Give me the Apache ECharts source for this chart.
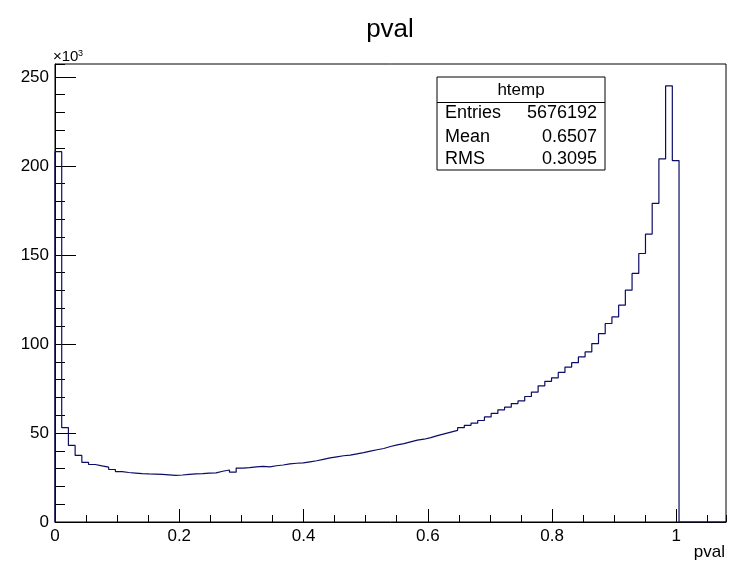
<!DOCTYPE html>
<html>
<head>
<meta charset="utf-8">
<script src="https://cdn.jsdelivr.net/npm/echarts@6/dist/echarts.min.js"></script>
<style>
html,body{margin:0;padding:0;background:#fff}
#main{width:729px;height:564px}
</style>
</head>
<body>
<div id="main"></div>
<script>
// htemp: 100 bins from 0 to 1.08, counts in units of 10^3
var binMin = 0, binMax = 1.08, nBins = 100;
var counts = [
    208, 53, 43, 37.4, 33.5, 32.3, 31.5, 30.8, 29.5, 28.3,
    27.8, 27.5, 27.2, 27.0, 26.9, 26.8, 26.5, 26.2, 26.4, 26.7,
    27.0, 27.2, 27.5, 27.6, 28.5, 29.2, 28.0, 30.3, 30.5, 31.0,
    31.2, 31.0, 31.6, 32.0, 32.6, 33.0, 33.2, 33.8, 34.4, 35.2,
    36.0, 36.6, 37.2, 37.6, 38.3, 39.0, 39.8, 40.6, 41.3, 42.4,
    43.3, 44.0, 45.0, 46.0, 46.5, 47.4, 48.5, 49.5, 50.5, 51.5,
    53.0, 54.3, 55.5, 57.0, 59.0, 61.0, 63.0, 64.5, 66.5, 68.0,
    70.5, 73.0, 76.5, 79.0, 81.0, 84.0, 87.0, 89.5, 92.7, 95.5,
    100.2, 105.8, 111.5, 115.2, 121.8, 130.2, 139.6, 150.8, 161.7, 179.0,
    204.0, 245.0, 203.0, 0, 0, 0, 0, 0, 0, 0
];
var statNames = ['Entries', 'Mean', 'RMS'];
var statValues = ['5676192', '0.6507', '0.3095'];

var font = 'Liberation Sans, Arial, Helvetica, sans-serif';
var lineColor = '#0c0c66';

// step points at the bin edges
var binW = (binMax - binMin) / nBins;
var pts = [[binMin, 0]];
for (var i = 0; i < nBins; i++) {
    pts.push([binMin + i * binW, counts[i]]);
}
pts.push([binMax, 0]);

var yMax = Math.max.apply(null, counts) * 1.05;

var myChart = echarts.init(document.getElementById('main'));

// stats box
var boxL = 437, boxT = 77, boxW = 168, boxH = 93;
var rowY = [113, 137.5, 159];
var stats = [
    {type: 'rect', shape: {x: boxL, y: boxT, width: boxW, height: boxH},
     style: {fill: '#fff', stroke: '#000', lineWidth: 1}},
    {type: 'line', shape: {x1: boxL, y1: 102.5, x2: boxL + boxW, y2: 102.5},
     style: {stroke: '#000', lineWidth: 1}},
    {type: 'text', style: {text: 'htemp', x: boxL + boxW / 2, y: 90, font: '17px ' + font,
     fill: '#000', align: 'center', verticalAlign: 'middle'}}
];
for (var k = 0; k < statNames.length; k++) {
    stats.push({type: 'text', style: {text: statNames[k], x: 445, y: rowY[k], font: '18px ' + font,
        fill: '#000', align: 'left', verticalAlign: 'middle'}});
    stats.push({type: 'text', style: {text: statValues[k], x: 597, y: rowY[k], font: '18px ' + font,
        fill: '#000', align: 'right', verticalAlign: 'middle'}});
}

option = {
    animation: false,
    backgroundColor: '#fff',
    grid: {
        left: 55, right: 3, top: 64, bottom: 42,
        show: true, borderColor: '#000', borderWidth: 1, backgroundColor: 'transparent'
    },
    xAxis: [
        {
            type: 'value', position: 'bottom', min: binMin, max: binMax, interval: 0.2,
            splitLine: {show: false},
            axisLine: {lineStyle: {color: '#000', width: 1}},
            axisTick: {inside: true, length: 13, lineStyle: {color: '#000'}},
            axisLabel: {color: '#000', fontSize: 17, fontFamily: font, margin: 6, showMaxLabel: false}
        },
        {
            type: 'value', position: 'bottom', min: binMin, max: binMax, interval: 0.05,
            splitLine: {show: false},
            axisLine: {show: false},
            axisTick: {inside: true, length: 7, lineStyle: {color: '#000'}},
            axisLabel: {show: false}
        }
    ],
    yAxis: [
        {
            type: 'value', position: 'left', min: 0, max: yMax, interval: 50,
            splitLine: {show: false},
            axisLine: {show: true, lineStyle: {color: '#000', width: 1}},
            axisTick: {show: true, inside: true, length: 21, lineStyle: {color: '#000'}},
            axisLabel: {color: '#000', fontSize: 17, fontFamily: font, margin: 6, showMaxLabel: false}
        },
        {
            type: 'value', position: 'left', min: 0, max: yMax, interval: 10,
            splitLine: {show: false},
            axisLine: {show: false},
            axisTick: {show: true, inside: true, length: 10, lineStyle: {color: '#000'}},
            axisLabel: {show: false}
        }
    ],
    graphic: [
        {type: 'text', style: {text: 'pval', x: 390, y: 30, font: '26px ' + font,
         fill: '#000', align: 'center', verticalAlign: 'middle'}},
        {type: 'text', style: {text: 'pval', x: 725, y: 552, font: '17px ' + font,
         fill: '#000', align: 'right', verticalAlign: 'middle'}},
        {type: 'text', style: {text: '\u00d710', x: 53, y: 57, font: '15px ' + font,
         fill: '#000', align: 'left', verticalAlign: 'middle'}},
        {type: 'text', style: {text: '3', x: 78, y: 49, font: '9px ' + font,
         fill: '#000', align: 'left', verticalAlign: 'top'}}
    ].concat(stats),
    series: [
        {
            name: 'htemp',
            type: 'line',
            step: 'end',
            symbol: 'none',
            xAxisIndex: 0,
            yAxisIndex: 0,
            lineStyle: {color: lineColor, width: 1.2},
            data: pts
        }
    ]
};
myChart.setOption(option);
</script>
</body>
</html>
